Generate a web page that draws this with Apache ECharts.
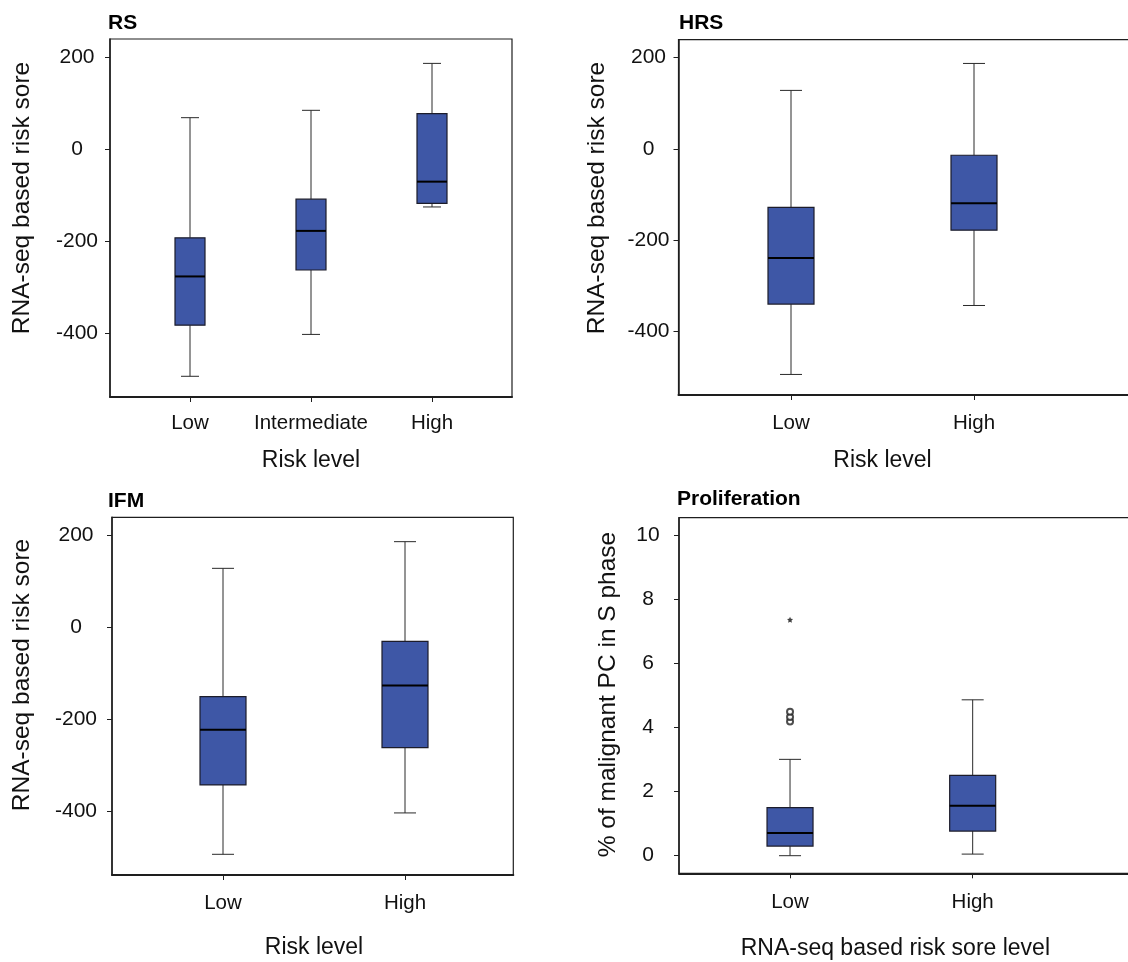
<!DOCTYPE html>
<html>
<head>
<meta charset="utf-8">
<script src="https://cdn.jsdelivr.net/npm/echarts@6/dist/echarts.min.js"></script>
<style>
  html, body { margin: 0; padding: 0; background: #fff; }
  #chart { width: 1128px; height: 962px; }
</style>
</head>
<body>
<div id="chart"></div>
<script>
// ---------------- DATA ----------------
// box statistics: [min, Q1, median, Q3, max]
const rsCategories = ['Low', 'Intermediate', 'High'];
const rsStats = [
  [-494, -383, -277, -193, 68],
  [-403, -263, -178, -109, 84],
  [-126, -118, -71, 77, 186]
];
const hrsCategories = ['Low', 'High'];
const hrsStats = [
  [-494, -340, -239, -128, 128],
  [-343, -178, -119, -14, 187]
];
const ifmCategories = ['Low', 'High'];
const ifmStats = [
  [-494, -343, -223, -151, 128],
  [-404, -262, -127, -31, 186]
];
const profCategories = ['Low', 'High'];
const profStats = [
  [0.0, 0.30, 0.71, 1.50, 3.01],
  [0.05, 0.77, 1.56, 2.51, 4.87]
];
const profOutliers = [[0, 4.19], [0, 4.33], [0, 4.50]];
const profExtremes = [[0, 7.37]];
const scoreTicks = [-400, -200, 0, 200];
const profTicks = [0, 2, 4, 6, 8, 10];
const scoreRange = [-539, 239];
const profRange = [-0.55, 10.56];

// ---------------- STYLE ----------------
const FONT = '"Liberation Sans", Arial, Helvetica, sans-serif';
const BOX_FILL = '#3E57A6';
const LINE = '#1e1e1e';

function boxRenderer(boxW, capW) {
  return function (params, api) {
    const x = api.value(0);
    const pMin = api.coord([x, api.value(1)]);
    const pQ1 = api.coord([x, api.value(2)]);
    const pMed = api.coord([x, api.value(3)]);
    const pQ3 = api.coord([x, api.value(4)]);
    const pMax = api.coord([x, api.value(5)]);
    const cx = pMed[0];
    const ls = { stroke: '#2a2a2a', lineWidth: 1 };
    return {
      type: 'group',
      children: [
        { type: 'line', shape: { x1: cx, y1: pQ3[1], x2: cx, y2: pMax[1] }, style: ls },
        { type: 'line', shape: { x1: cx - capW / 2, y1: pMax[1], x2: cx + capW / 2, y2: pMax[1] }, style: ls },
        { type: 'line', shape: { x1: cx, y1: pQ1[1], x2: cx, y2: pMin[1] }, style: ls },
        { type: 'line', shape: { x1: cx - capW / 2, y1: pMin[1], x2: cx + capW / 2, y2: pMin[1] }, style: ls },
        { type: 'rect', shape: { x: cx - boxW / 2, y: pQ3[1], width: boxW, height: pQ1[1] - pQ3[1] },
          style: { fill: BOX_FILL, stroke: '#1c1c2a', lineWidth: 1.2 } },
        { type: 'line', shape: { x1: cx - boxW / 2, y1: pMed[1], x2: cx + boxW / 2, y2: pMed[1] },
          style: { stroke: '#000', lineWidth: 2 } }
      ]
    };
  };
}

const toRows = stats => stats.map((s, i) => [i].concat(s));

// panel layout: frame box + inner data box
const panels = [
  { frame: { left: 110, top: 39, width: 402, height: 358 }, data: { left: 129.5, width: 363 },
    cats: rsCategories, stats: rsStats, range: scoreRange, ticks: scoreTicks,
    xName: 'Risk level', nameGap: 52, labelMargin: 16, yLabelMargin: 33, boxW: 30, capW: 18,
    title: 'RS', titleLeft: 108, titleTop: 13,
    yTitle: 'RNA-seq based risk sore', yTitleX: 22.5, yTitleY: 198 },
  { frame: { left: 678.5, top: 39.7, width: 480, height: 355.3 }, data: { left: 699.5, width: 366 },
    cats: hrsCategories, stats: hrsStats, range: scoreRange, ticks: scoreTicks,
    xName: 'Risk level', nameGap: 54, labelMargin: 18, yLabelMargin: 30, boxW: 46, capW: 22,
    title: 'HRS', titleLeft: 679, titleTop: 13,
    yTitle: 'RNA-seq based risk sore', yTitleX: 597, yTitleY: 198 },
  { frame: { left: 112, top: 517.3, width: 401.3, height: 357.7 }, data: { left: 132, width: 364 },
    cats: ifmCategories, stats: ifmStats, range: scoreRange, ticks: scoreTicks,
    xName: 'Risk level', nameGap: 61, labelMargin: 18, yLabelMargin: 36, boxW: 46, capW: 22,
    title: 'IFM', titleLeft: 108, titleTop: 491,
    yTitle: 'RNA-seq based risk sore', yTitleX: 22.5, yTitleY: 675 },
  { frame: { left: 679, top: 517.7, width: 480, height: 355.6 }, data: { left: 698.7, width: 365.3 },
    cats: profCategories, stats: profStats, range: profRange, ticks: profTicks,
    xName: 'RNA-seq based risk sore level', nameGap: 64, labelMargin: 19, yLabelMargin: 31, boxW: 46, capW: 22,
    xNamePad: [0, 0, 0, 28],
    title: 'Proliferation', titleLeft: 677, titleTop: 489,
    yTitle: '% of malignant PC in S phase', yTitleX: 608.5, yTitleY: 694.5 }
];

const option = {
  backgroundColor: '#fff',
  animation: false,
  textStyle: { fontFamily: FONT },
  title: [], grid: [], xAxis: [], yAxis: [], series: [], graphic: []
};

panels.forEach((p, k) => {
  const fg = 2 * k, dg = 2 * k + 1;
  option.title.push({
    text: p.title, left: p.titleLeft, top: p.titleTop, padding: 0,
    textStyle: { fontFamily: FONT, fontSize: 21, fontWeight: 'bold', color: '#000' }
  });
  option.grid.push({
    left: p.frame.left, top: p.frame.top, width: p.frame.width, height: p.frame.height,
    show: true, borderColor: LINE, borderWidth: 1.2, backgroundColor: 'transparent',
    containLabel: false, outerBoundsMode: 'none'
  });
  option.grid.push({
    left: p.data.left, top: p.frame.top, width: p.data.width, height: p.frame.height,
    show: false, containLabel: false, outerBoundsMode: 'none'
  });
  // frame axes (only used for the heavier bottom/left frame lines)
  option.xAxis.push({
    type: 'value', gridIndex: fg, min: 0, max: 1,
    axisLine: { show: true, onZero: false, lineStyle: { color: LINE, width: 2 } },
    axisTick: { show: false }, axisLabel: { show: false }, splitLine: { show: false }
  });
  option.yAxis.push({
    type: 'value', gridIndex: fg, min: 0, max: 1,
    axisLine: { show: true, onZero: false, lineStyle: { color: LINE, width: 1.5 } },
    axisTick: { show: false }, axisLabel: { show: false }, splitLine: { show: false }
  });
  // data axes
  option.xAxis.push({
    type: 'category', gridIndex: dg, data: p.cats, boundaryGap: true, position: 'bottom',
    axisLine: { show: false, onZero: false },
    axisTick: { show: true, alignWithLabel: true, length: 5, lineStyle: { color: LINE, width: 1 } },
    axisLabel: { fontFamily: FONT, fontSize: 20.5, color: '#111', margin: p.labelMargin,
                 interval: 0, hideOverlap: false },
    splitLine: { show: false },
    name: p.xName, nameLocation: 'middle', nameGap: p.nameGap,
    nameTextStyle: { fontFamily: FONT, fontSize: 23, color: '#111', padding: p.xNamePad || 0 }
  });
  option.yAxis.push({
    type: 'value', gridIndex: dg, min: p.range[0], max: p.range[1],
    offset: p.data.left - p.frame.left,
    axisLine: { show: false, onZero: false },
    axisTick: { show: true, length: 5, customValues: p.ticks, lineStyle: { color: LINE, width: 1 } },
    axisLabel: { customValues: p.ticks, fontFamily: FONT, fontSize: 21, color: '#111',
                 align: 'center', margin: p.yLabelMargin },
    splitLine: { show: false }
  });
  option.series.push({
    type: 'custom', xAxisIndex: dg, yAxisIndex: dg, clip: false,
    renderItem: boxRenderer(p.boxW, p.capW),
    encode: { x: 0, y: [1, 2, 3, 4, 5] },
    data: toRows(p.stats)
  });
  option.graphic.push({
    type: 'text', x: p.yTitleX, y: p.yTitleY, rotation: Math.PI / 2,
    style: { text: p.yTitle, fontFamily: FONT, fontSize: 24.5, fill: '#111',
             textAlign: 'center', textVerticalAlign: 'middle' }
  });
});

// outliers on proliferation panel
option.series.push({
  type: 'scatter', xAxisIndex: 7, yAxisIndex: 7, data: profOutliers,
  symbol: 'emptyCircle', symbolSize: 6,
  itemStyle: { color: '#222', borderColor: '#222', borderWidth: 1 }
});
option.series.push({
  type: 'scatter', xAxisIndex: 7, yAxisIndex: 7, data: profExtremes,
  symbol: 'path://M0,-10 L2.9,-4 9.5,-3.1 4.7,1.5 5.9,8.1 0,5 -5.9,8.1 -4.7,1.5 -9.5,-3.1 -2.9,-4 Z',
  symbolSize: 6, itemStyle: { color: '#111' }
});

const chart = echarts.init(document.getElementById('chart'), null, { renderer: 'canvas' });
chart.setOption(option);
</script>
</body>
</html>
